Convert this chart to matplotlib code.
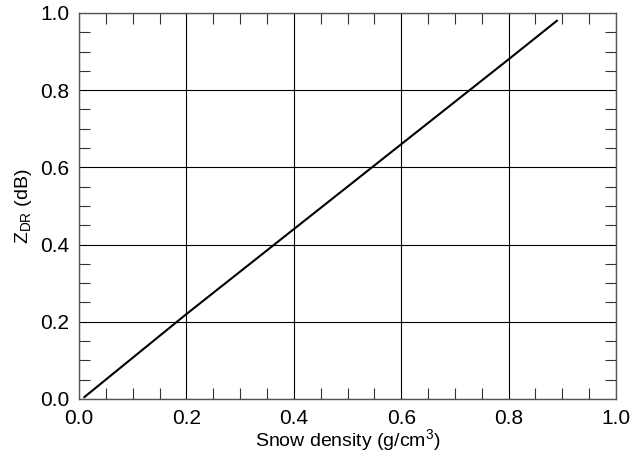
import numpy as np
import matplotlib.pyplot as plt
from matplotlib.ticker import MultipleLocator

plt.rcParams['font.family'] = ['Liberation Sans', 'DejaVu Sans']
plt.rcParams['mathtext.fontset'] = 'custom'
plt.rcParams['mathtext.rm'] = 'Liberation Sans'

# snow density (g/cm^3) vs ZDR (dB)
density = [0.01, 0.2, 0.4, 0.6, 0.8, 0.89]
zdr = [0.005, 0.22, 0.44, 0.66, 0.88, 0.98]

fig = plt.figure(figsize=(6.34, 4.53), dpi=100)
ax = fig.add_axes([79 / 634, 1 - 399 / 453, (616 - 79) / 634, (399 - 13) / 453])

ax.plot(density, zdr, color='black', lw=1.5)

ax.set_xlim(0, 1)
ax.set_ylim(0, 1)
ax.xaxis.set_major_locator(MultipleLocator(0.2))
ax.yaxis.set_major_locator(MultipleLocator(0.2))
ax.xaxis.set_minor_locator(MultipleLocator(0.05))
ax.yaxis.set_minor_locator(MultipleLocator(0.05))
ax.grid(True, which='major', color='black', lw=0.8)
ax.tick_params(which='both', direction='in', top=True, right=True,
               labelsize=15, colors='#333333', labelcolor='black')
ax.tick_params(which='major', length=0, pad=7)
ax.tick_params(which='minor', length=8, width=0.8)
for s in ax.spines.values():
    s.set_color('#555555')
    s.set_linewidth(1.0)

ax.set_xlabel('Snow density (g/cm$^{\\mathrm{3}}$)', fontsize=14, labelpad=0)
ax.set_ylabel('Z$_{\\mathrm{DR}}$ (dB)', fontsize=14, labelpad=4)

fig.savefig('out.png', dpi=100)
